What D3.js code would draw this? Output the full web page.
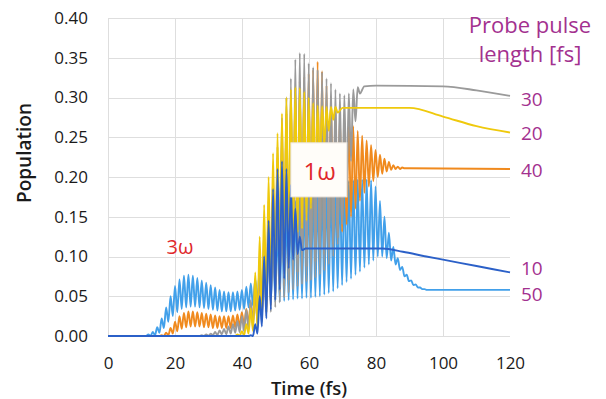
<!DOCTYPE html>
<html>
<head>
<meta charset="utf-8">
<script src="https://cdn.jsdelivr.net/npm/d3@7"></script>
<style>
  body { margin: 0; background: #fff; }
  svg { display: block; }
  text { font-family: "Open Sans", "Noto Sans", sans-serif; }
</style>
</head>
<body>
<svg id="chart" width="606" height="399"></svg>
<script>
// ---- data -------------------------------------------------------------
const xTicks = [0, 20, 40, 60, 80, 100, 120];
const yTicks = [0, 0.05, 0.10, 0.15, 0.20, 0.25, 0.30, 0.35, 0.40];

// field-driven oscillations share one cycle grid (fs)
const cycleStart = 12.03;
const cyclePeriod = 1.33;

// probe pulse length 50 fs
const first50 = 0;
const lead50 = [[0, 0], [11.4, 0]];
const peaks50 = [0.002,0.005,0.011,0.022,0.036,0.05,0.063,0.071,0.076,0.077,
  0.076,0.073,0.07,0.067,0.064,0.061,0.058,0.056,0.055,0.055,
  0.056,0.058,0.062,0.066,0.072,0.085,0.1,0.115,0.13,0.14,
  0.15,0.158,0.165,0.17,0.175,0.178,0.181,0.184,0.186,0.188,
  0.19,0.191,0.192,0.193,0.194,0.195,0.196,0.197,0.197,0.197,
  0.196,0.188,0.17,0.15,0.13,0.112,0.098,0.087,0.077,0.07,
  0.065,0.061,0.059];
const troughs50 = [0,0.001,0.004,0.01,0.018,0.025,0.03,0.034,0.036,0.037,
  0.037,0.036,0.035,0.034,0.033,0.032,0.031,0.031,0.031,0.032,
  0.033,0.034,0.036,0.038,0.04,0.04,0.04,0.041,0.042,0.043,
  0.044,0.045,0.046,0.047,0.047,0.048,0.048,0.049,0.05,0.052,
  0.054,0.056,0.06,0.064,0.068,0.072,0.077,0.081,0.086,0.09,
  0.095,0.1,0.1,0.098,0.095,0.09,0.083,0.075,0.069,0.064,
  0.061,0.059,0.058];
const tail50 = [[97, 0.058], [120, 0.058]];

// probe pulse length 40 fs
const first40 = 3;
const lead40 = [[0, 0], [15.4, 0]];
const peaks40 = [0.001,0.004,0.01,0.018,0.025,0.029,0.031,0.031,0.03,0.029,
  0.028,0.027,0.026,0.025,0.025,0.025,0.026,0.027,0.03,0.034,
  0.042,0.055,0.08,0.11,0.15,0.19,0.225,0.255,0.28,0.3,
  0.312,0.32,0.326,0.33,0.335,0.345,0.333,0.315,0.3,0.288,
  0.278,0.272,0.268,0.264,0.258,0.252,0.246,0.24,0.234,0.228,
  0.223,0.219,0.215,0.213,0.212];
const troughs40 = [0,0.001,0.003,0.006,0.009,0.011,0.012,0.012,0.012,0.011,
  0.011,0.01,0.01,0.01,0.01,0.01,0.011,0.012,0.013,0.015,
  0.017,0.02,0.024,0.03,0.038,0.046,0.055,0.063,0.07,0.076,
  0.08,0.084,0.087,0.09,0.093,0.097,0.102,0.108,0.115,0.123,
  0.131,0.14,0.15,0.16,0.17,0.18,0.188,0.195,0.2,0.204,
  0.207,0.209,0.21,0.21,0.211];
const tail40 = [[90, 0.211], [120, 0.21]];

// probe pulse length 30 fs
const first30 = 12;
const lead30 = [[0, 0], [27.3, 0]];
const peaks30 = [0.001,0.002,0.003,0.005,0.007,0.009,0.012,0.015,0.019,0.025,
  0.033,0.045,0.07,0.1,0.135,0.17,0.205,0.238,0.275,0.3,
  0.324,0.348,0.356,0.355,0.343,0.338,0.335,0.332,0.324,0.318,
  0.31,0.305,0.303,0.305,0.31,0.313];
const troughs30 = [0,0,0.001,0.001,0.002,0.002,0.003,0.004,0.005,0.006,
  0.008,0.01,0.013,0.018,0.024,0.03,0.036,0.042,0.048,0.054,
  0.058,0.062,0.065,0.068,0.07,0.073,0.077,0.082,0.09,0.1,
  0.115,0.14,0.175,0.22,0.27,0.305];
const tail30 = [[76.5, 0.314], [80, 0.315], [100, 0.314], [110, 0.309], [120, 0.302]];

// probe pulse length 20 fs
const first20 = 20;
const lead20 = [[0, 0], [38.0, 0]];
const peaks20 = [0.002,0.006,0.015,0.035,0.08,0.125,0.165,0.2,0.23,0.255,
  0.28,0.3,0.31,0.313,0.312,0.307,0.3,0.293,0.29,0.289,
  0.288,0.288,0.288];
const troughs20 = [0,0.001,0.003,0.006,0.01,0.018,0.03,0.045,0.062,0.08,
  0.1,0.115,0.125,0.13,0.135,0.145,0.16,0.185,0.215,0.24,
  0.258,0.272,0.281];
const tail20 = [[70, 0.287], [90, 0.287], [100, 0.276], [110, 0.264], [120, 0.256]];

// probe pulse length 10 fs
const first10 = 23;
const lead10 = [[0, 0], [42.0, 0]];
const peaks10 = [0.001,0.015,0.05,0.1,0.145,0.185,0.21,0.22,0.21,0.19,0.16,0.125];
const troughs10 = [0,0.003,0.012,0.022,0.033,0.045,0.058,0.072,0.085,0.096,0.103,0.108];
const tail10 = [[59, 0.11], [82, 0.11], [88, 0.106], [95, 0.1], [100, 0.096], [110, 0.088], [120, 0.08]];

const seriesLabels = ["50", "40", "30", "20", "10"];

// ---- styles -----------------------------------------------------------
const colors = { "50": "#42a0ea", "40": "#f08a1e", "30": "#9a9a9a", "20": "#efc90c", "10": "#2b60c8" };
const labelShift = { "50": 4.5, "40": 1, "30": 3, "20": 1, "10": -4.5 };
const labelColor = "#a3318f";
const noteColor = "#e0282c";

// ---- build point lists ------------------------------------------------
function buildSeries(lead, first, peaks, troughs, tail) {
  const pts = lead.map(d => d.slice());
  peaks.forEach((p, i) => {
    const t = cycleStart + (first + i) * cyclePeriod;
    pts.push([t, p]);
    pts.push([t + cyclePeriod / 2, troughs[i]]);
  });
  return pts.concat(tail);
}

const series = [
  { key: "50", pts: buildSeries(lead50, first50, peaks50, troughs50, tail50) },
  { key: "40", pts: buildSeries(lead40, first40, peaks40, troughs40, tail40) },
  { key: "30", pts: buildSeries(lead30, first30, peaks30, troughs30, tail30) },
  { key: "20", pts: buildSeries(lead20, first20, peaks20, troughs20, tail20) },
  { key: "10", pts: buildSeries(lead10, first10, peaks10, troughs10, tail10) }
];

// ---- chart ------------------------------------------------------------
const svg = d3.select("#chart");
const x = d3.scaleLinear().domain([0, 120]).range([108, 510]);
const y = d3.scaleLinear().domain([0, 0.4]).range([336, 18]);

// grid
const grid = svg.append("g").attr("stroke", "#dedede").attr("stroke-width", 1);
grid.selectAll("line.h").data(yTicks).join("line")
  .attr("x1", x(0)).attr("x2", x(120))
  .attr("y1", d => Math.round(y(d)) + 0.5).attr("y2", d => Math.round(y(d)) + 0.5);
grid.selectAll("line.v").data(xTicks.filter(d => d < 120)).join("line")
  .attr("y1", y(0)).attr("y2", y(0.4))
  .attr("x1", d => Math.round(x(d)) + 0.5).attr("x2", d => Math.round(x(d)) + 0.5);

// axes (labels only; lines come from the grid)
const xAxis = d3.axisBottom(x).tickValues(xTicks).tickFormat(d3.format("d")).tickSize(0).tickPadding(21);
const yAxis = d3.axisLeft(y).tickValues(yTicks).tickFormat(d3.format(".2f")).tickSize(0).tickPadding(20);
const gx = svg.append("g").attr("transform", `translate(0,${y(0)})`).call(xAxis);
const gy = svg.append("g").attr("transform", `translate(${x(0)},0)`).call(yAxis);
[gx, gy].forEach(g => {
  g.select(".domain").remove();
  g.selectAll("text").attr("font-size", 17).attr("fill", "#1a1a1a")
    .attr("font-family", "\"Open Sans\", sans-serif");
});

// series lines
const line = d3.line().x(d => x(d[0])).y(d => y(d[1])).curve(d3.curveMonotoneX);
svg.append("g").selectAll("path").data(series).join("path")
  .attr("d", d => line(d.pts))
  .attr("fill", "none")
  .attr("stroke", d => colors[d.key])
  .attr("stroke-width", 1.9)
  .attr("stroke-linejoin", "round");

// end labels
svg.append("g").selectAll("text").data(series).join("text")
  .attr("x", 521)
  .attr("y", d => y(d.pts[d.pts.length - 1][1]) + labelShift[d.key])
  .attr("dominant-baseline", "central")
  .attr("font-size", 19)
  .attr("fill", labelColor)
  .text(d => d.key);

// legend title
const title = svg.append("text").attr("x", 530).attr("text-anchor", "middle")
  .attr("font-size", 22).attr("fill", labelColor);
title.append("tspan").attr("x", 530).attr("y", 33).text("Probe pulse");
title.append("tspan").attr("x", 530).attr("y", 62).text("length [fs]");

// axis titles
svg.append("text").attr("x", 309).attr("y", 395).attr("text-anchor", "middle")
  .attr("font-size", 18.5).attr("font-weight", 600).attr("fill", "#1a1a1a").text("Time (fs)");
svg.append("text").attr("transform", "translate(31,153) rotate(-90)").attr("text-anchor", "middle")
  .attr("font-size", 19).attr("font-weight", 600).attr("fill", "#1a1a1a").text("Population");

// harmonic annotations
svg.append("text").attr("x", x(21.5)).attr("y", y(0.112)).attr("text-anchor", "middle")
  .attr("dominant-baseline", "central").attr("font-size", 20).attr("fill", noteColor).text("3ω");
svg.append("rect").attr("x", x(54.6)).attr("y", y(0.243))
  .attr("width", x(71.3) - x(54.6)).attr("height", y(0.175) - y(0.243))
  .attr("fill", "#fffdf9").attr("stroke", "#ece6df").attr("stroke-width", 1);
svg.append("text").attr("x", x(63.2)).attr("y", y(0.208)).attr("text-anchor", "middle")
  .attr("dominant-baseline", "central").attr("font-size", 24).attr("fill", noteColor).text("1ω");
</script>
</body>
</html>
